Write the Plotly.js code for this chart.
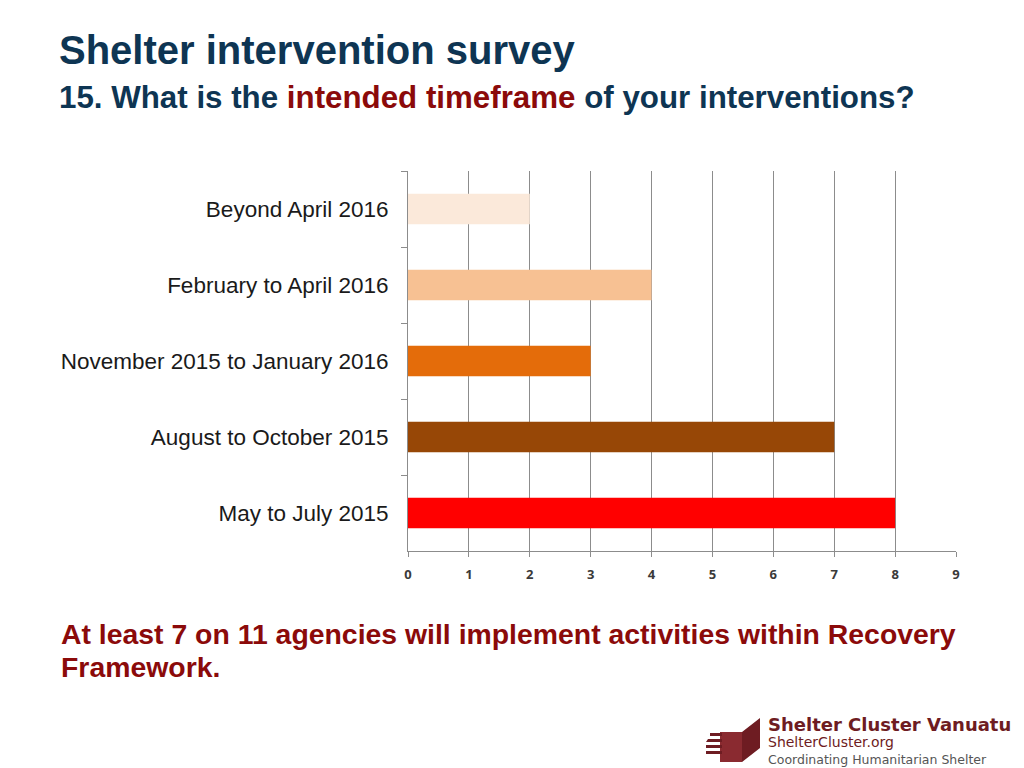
<!DOCTYPE html>
<html>
<head>
<meta charset="utf-8">
<script src="https://cdn.plot.ly/plotly-3.0.1.min.js"></script>
<style>html,body{margin:0;padding:0;background:#fff;}#chart{width:1024px;height:768px;}</style>
</head>
<body>
<div id="chart"></div>
<script>
// Data
var categories = ["Beyond April 2016", "February to April 2016", "November 2015 to January 2016", "August to October 2015", "May to July 2015"];
var values = [2, 4, 3, 7, 8];
var barColors = ["#fbe9da", "#f7c193", "#e46c0a", "#974706", "#ff0000"];
var xTicks = [0, 1, 2, 3, 4, 5, 6, 7, 8, 9];

var L = 408, R = 956, T = 171, B = 551;
function px(x) { return (x - L) / (R - L); }
function py(y) { return (B - y) / (B - T); }

var trace = {
  type: "bar",
  orientation: "h",
  y: categories,
  x: values,
  width: 0.4,
  marker: { color: barColors, line: { width: 0 } },
  hoverinfo: "x+y"
};

var layout = {
  width: 1024, height: 768,
  margin: { l: L, r: 1024 - R, t: T, b: 768 - B, pad: 0 },
  paper_bgcolor: "#ffffff",
  plot_bgcolor: "#ffffff",
  showlegend: false,
  xaxis: {
    range: [0, 9],
    tickvals: xTicks,
    ticktext: xTicks.map(String),
    showgrid: true, gridcolor: "#8c8c8c", gridwidth: 1,
    showline: true, linecolor: "#8c8c8c", linewidth: 1,
    ticks: "outside", ticklen: 5, tickcolor: "#8c8c8c",
    tickfont: { family: "Open Sans, Arial, sans-serif", size: 13, color: "#3a3a3a", weight: "bold" },
    ticklabelstandoff: 6,
    zeroline: false, fixedrange: true
  },
  yaxis: {
    type: "category",
    autorange: "reversed",
    showgrid: false,
    showline: true, linecolor: "#8c8c8c", linewidth: 1,
    ticks: "outside", ticklen: 6, tickcolor: "#8c8c8c",
    tickson: "boundaries",
    tickfont: { family: "Liberation Sans, Arial, sans-serif", size: 22.5, color: "#1a1a1a" },
    ticklabelstandoff: 14,
    fixedrange: true
  },
  annotations: [
    { xref: "paper", yref: "paper", x: px(57), y: py(50), xanchor: "left", yanchor: "middle",
      text: "<b>Shelter intervention survey</b>", showarrow: false,
      font: { family: "Liberation Sans, Arial, sans-serif", size: 40, color: "#0e3553" } },
    { xref: "paper", yref: "paper", x: px(57), y: py(98), xanchor: "left", yanchor: "middle",
      text: "<b>15. What is the <span style='color:#8b0a0a'>intended timeframe</span> of your interventions?</b>", showarrow: false,
      font: { family: "Liberation Sans, Arial, sans-serif", size: 31.3, color: "#0e3553" } },
    { xref: "paper", yref: "paper", x: px(59), y: py(634), xanchor: "left", yanchor: "middle", align: "left",
      text: "<b>At least 7 on 11 agencies will implement activities within Recovery</b>", showarrow: false,
      font: { family: "Liberation Sans, Arial, sans-serif", size: 28.4, color: "#8b0a0a" } },
    { xref: "paper", yref: "paper", x: px(59), y: py(667), xanchor: "left", yanchor: "middle", align: "left",
      text: "<b>Framework.</b>", showarrow: false,
      font: { family: "Liberation Sans, Arial, sans-serif", size: 28.4, color: "#8b0a0a" } },
    { xref: "paper", yref: "paper", x: px(766), y: py(740), xanchor: "left", yanchor: "middle", align: "left",
      text: "<span style='font-size:18px;color:#6e1c22'><b>Shelter Cluster Vanuatu</b></span><br><span style='font-size:14px;color:#6e1c22'>ShelterCluster.org</span><br>Coordinating Humanitarian Shelter",
      showarrow: false,
      font: { family: "DejaVu Sans, Verdana, sans-serif", size: 12.5, color: "#555555" } }
  ],
  shapes: [
    { type: "path", xref: "paper", yref: "paper", xsizemode: "pixel", ysizemode: "pixel",
      xanchor: px(706), yanchor: py(762),
      path: "M 14 0 L 36 0 L 54 14 L 54 44 L 36 30 L 36 10 Z",
      fillcolor: "#6e1c22", line: { width: 0 } },
    { type: "path", xref: "paper", yref: "paper", xsizemode: "pixel", ysizemode: "pixel",
      xanchor: px(706), yanchor: py(762),
      path: "M 14 0 L 36 0 L 36 30 L 14 30 Z",
      fillcolor: "#8a2a30", line: { width: 0 } },
    { type: "path", xref: "paper", yref: "paper", xsizemode: "pixel", ysizemode: "pixel",
      xanchor: px(706), yanchor: py(762),
      path: "M 0 8 L 16 8 L 16 11 L 0 11 Z M 0 14 L 16 14 L 16 17 L 0 17 Z M 0 20 L 16 20 L 16 23 L 2 23 Z M 4 26 L 16 26 L 16 29 L 4 29 Z",
      fillcolor: "#6e1c22", line: { width: 0 } }
  ]
};

Plotly.newPlot("chart", [trace], layout, { staticPlot: true, displayModeBar: false });
</script>
</body>
</html>
